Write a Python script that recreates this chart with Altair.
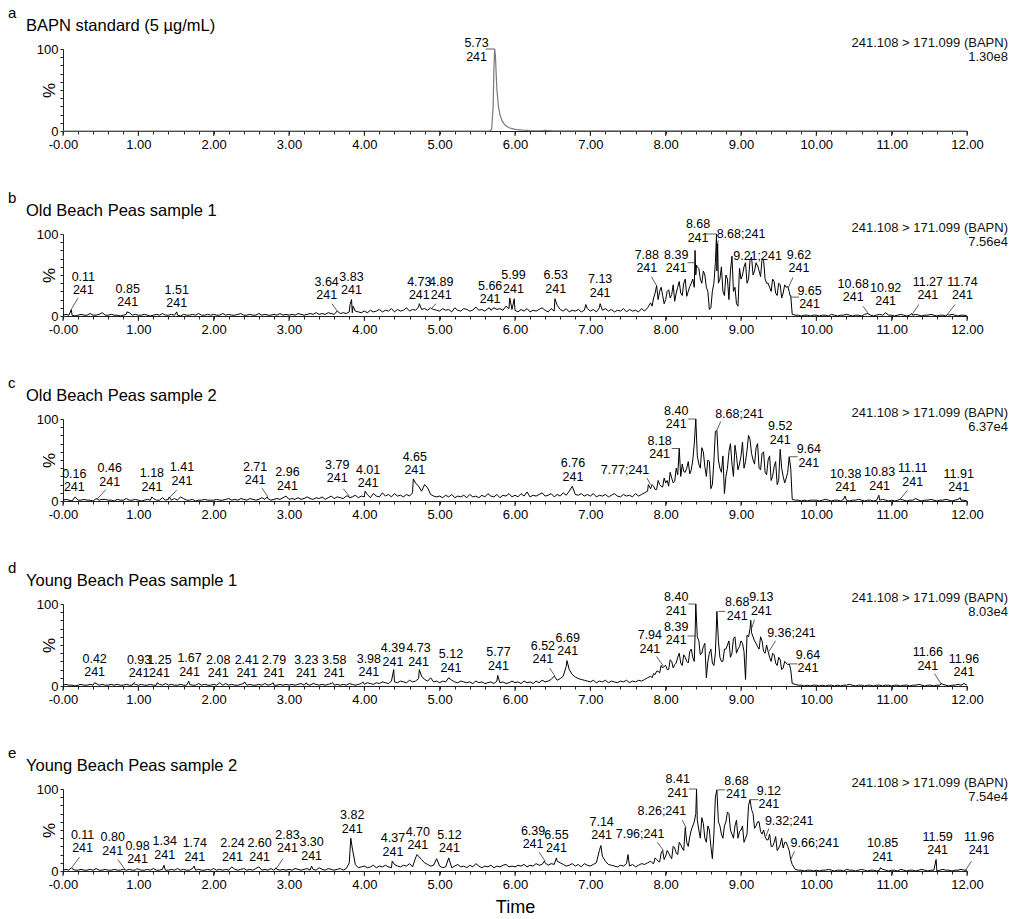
import altair as alt
import pandas as pd

FONT = "Liberation Sans"
STEP = 0.04          # spacing of the base trace samples (min)
MID_START = 7.82     # first time of the interleaved samples in the dense hump
W, H = 904, 82
LH = 13.5            # line height of the two-line peak labels

letters = ["a", "b", "c", "d", "e"]
titles = ["BAPN standard (5 µg/mL)", "Old Beach Peas sample 1", "Old Beach Peas sample 2",
          "Young Beach Peas sample 1", "Young Beach Peas sample 2"]
transition = "241.108 > 171.099 (BAPN)"
intensities = ["1.30e8", "7.56e4", "6.37e4", "8.03e4", "7.54e4"]

x_tick_values = [round(0.2 * i, 1) for i in range(61)]
x_major_ticks = list(range(13))
y_tick_values = list(range(0, 101, 10))

# ---- panel a: BAPN standard (clean peak) ----
a_t = [0.0, 5.66, 5.69, 5.71, 5.72, 5.73, 5.74, 5.75, 5.76, 5.78, 5.80, 5.83, 5.87, 5.92,
       6.00, 6.10, 6.20, 6.35, 6.40, 6.50, 12.0]
a_v = [0, 0, 2, 30, 75, 100, 92, 70, 50, 30, 20, 12, 7, 4, 2, 1, 0.5, 0.3, 0.8, 0.2, 0]
a_labels = [("5.73\n241", 5.73, 100, 5.61, 100, 5.49, 82)]

# ---- panel b ----
b_base = [1,2,1,1,0,1,2,1,1,3,1,1,2,4,1,1,2,1,1,0,1,2,4,1,2,
          1,1,2,1,0,1,2,1,3,1,1,2,1,1,0,2,1,1,2,1,3,1,1,2,1,
          2,1,1,3,1,2,1,1,2,3,1,1,2,1,1,3,1,2,1,1,2,1,3,1,2,
          1,2,1,3,2,1,2,3,2,4,2,3,2,4,3,2,5,3,4,3,5,4,6,5,4,
          6,4,7,5,6,8,5,7,6,9,5,8,6,7,10,6,8,7,11,8,9,7,10,8,7,
          6,9,7,8,5,10,7,6,9,8,6,7,11,7,8,6,9,7,10,8,9,7,12,9,8,
          7,5,8,6,9,5,7,6,8,10,7,5,9,6,13,8,6,9,5,7,6,8,5,7,9,
          6,8,5,10,7,9,6,8,5,7,6,9,5,8,6,7,5,9,6,10,16,22,18,30,25,
          20,32,26,18,35,28,40,24,36,45,50,58,40,50,30,10,40,55,45,30,50,20,72,35,12,
          45,60,40,68,50,65,55,70,45,40,30,42,25,38,28,35,30,2,1,1,0,1,1,0,1,
          1,0,1,1,0,2,1,0,1,1,2,1,0,1,1,0,2,1,1,0,1,2,1,0,1,
          1,0,1,2,1,0,1,1,2,1,0,1,1,2,1,0,1,1,0,1,2,1,0,1,1,0]
b_mid = [12,28,20,35,15, 30,22,38,28,42, 25,45,30,40,35, 60,45,55,35,8,
         30,65,40,60,25, 45,55,30,15,58, 50,65,45,72,55, 62,48,68,40,35,
         45,28,40,22,38, 30,25]
b_spikes = [(0.11,8),(0.85,5),(1.51,5),(3.64,6),(3.81,14),(3.83,20),(3.85,12),(4.73,15),
            (4.89,9),(5.66,10),(5.93,22),(5.99,21),(6.53,21),(6.94,14),(7.13,15),(7.88,37),
            (8.39,80),(8.41,62),(8.675,100),(8.69,88),(8.88,73),(9.21,62),(9.62,36),(9.65,25),
            (10.68,3),(10.92,4),(11.27,3),(11.74,2)]
b_labels = [("0.11\n241", 0.115, 9, 0.20, 22, 0.27, 23),
            ("0.85\n241", 0.85, 5, 0.85, 5, 0.86, 8),
            ("1.51\n241", 1.51, 5, 1.51, 5, 1.51, 7),
            ("3.64\n241", 3.64, 6, 3.57, 15, 3.50, 16.5),
            ("3.83\n241", 3.83, 20, 3.83, 20, 3.83, 23),
            ("4.73\n241", 4.73, 15, 4.73, 15, 4.73, 17),
            ("4.89\n241", 4.89, 9, 4.95, 15, 5.02, 17),
            ("5.66\n241", 5.66, 10, 5.66, 10, 5.67, 12),
            ("5.99\n241", 5.99, 21, 5.99, 21, 5.98, 25),
            ("6.53\n241", 6.53, 21, 6.53, 21, 6.54, 25),
            ("7.13\n241", 7.13, 15, 7.13, 15, 7.13, 20),
            ("7.88\n241", 7.88, 37, 7.81, 48, 7.75, 50),
            ("8.39\n241", 8.40, 65, 8.29, 65, 8.14, 50),
            ("8.68\n241", 8.675, 100, 8.53, 100, 8.43, 87),
            ("8.68;241", 8.69, 88, 8.70, 92, 9.00, 92),
            ("9.21;241", 9.21, 62, 9.21, 62, 9.22, 65),
            ("9.62\n241", 9.63, 35, 9.69, 47, 9.77, 50),
            ("9.65\n241", 9.66, 23, 9.77, 23, 9.91, 6),
            ("10.68\n241", 10.69, 3, 10.62, 12, 10.49, 14.5),
            ("10.92\n241", 10.92, 4, 10.92, 4, 10.92, 9.5),
            ("11.27\n241", 11.28, 3, 11.36, 14, 11.48, 16.5),
            ("11.74\n241", 11.74, 2, 11.84, 14, 11.94, 16.5)]

# ---- panel c ----
c_base = [1,2,1,0,4,1,1,2,1,1,0,3,1,2,2,1,1,0,2,1,1,3,1,1,2,
          1,0,1,2,1,3,1,1,4,1,2,1,3,1,5,3,1,1,2,0,1,1,2,1,1,
          1,2,1,1,2,3,1,2,1,3,2,1,3,2,1,2,4,2,3,1,2,3,2,4,3,
          2,3,2,4,2,3,5,3,2,4,3,5,2,4,6,3,5,4,3,6,4,5,7,4,6,
          5,8,4,9,6,5,10,6,8,5,9,6,7,5,8,6,10,22,18,12,20,16,8,6,5,
          6,4,7,5,8,4,6,5,7,4,8,5,6,4,7,5,9,6,5,8,4,7,6,9,5,
          7,5,9,6,11,5,7,6,8,10,6,7,9,5,8,6,10,7,12,6,8,7,9,6,8,
          6,9,5,7,6,8,5,7,9,6,5,8,6,7,5,9,6,8,10,12,15,18,14,20,17,
          22,18,28,24,32,30,36,40,33,50,60,45,65,42,50,15,48,70,40,55,30,60,45,68,38,
          55,40,62,75,50,65,40,58,35,50,25,42,20,45,30,28,32,2,1,1,0,1,0,1,1,
          1,0,1,2,1,0,1,1,0,2,1,0,1,1,2,1,0,1,1,0,1,1,2,1,0,
          1,0,1,2,1,0,1,1,3,1,0,1,1,2,1,0,1,1,2,1,0,1,2,1,1,0]
c_mid = [20,14,25,18,28, 25,35,22,40,30, 45,35,48,38,70, 55,40,60,30,48,
         20,85,50,35,9, 40,70,30,55,45, 72,48,80,58,45, 70,38,60,32,55,
         30,48,25,40,22, 35,40]
c_spikes = [(0.16,5),(0.46,2),(1.18,5),(1.41,5),(2.71,5),(2.96,6),(3.79,6),(4.01,12),
            (4.65,27),(6.76,18),(7.77,20),(8.18,64),(8.40,100),(8.68,86),(9.52,63),(9.64,54),
            (10.38,6),(10.83,7),(11.11,2),(11.91,4)]
c_labels = [("0.16\n241", 0.16, 5, 0.16, 5, 0.15, 8),
            ("0.46\n241", 0.45, 2, 0.57, 14, 0.62, 15),
            ("1.18\n241", 1.18, 5, 1.18, 5, 1.18, 9),
            ("1.41\n241", 1.42, 5, 1.51, 13, 1.58, 16),
            ("2.71\n241", 2.72, 5, 2.64, 16, 2.55, 17),
            ("2.96\n241", 2.96, 6, 2.96, 6, 2.98, 10),
            ("3.79\n241", 3.80, 6, 3.72, 15, 3.64, 19),
            ("4.01\n241", 4.01, 12, 4.01, 12, 4.05, 13),
            ("4.65\n241", 4.65, 27, 4.65, 27, 4.67, 29),
            ("6.76\n241", 6.76, 18, 6.76, 18, 6.77, 21),
            ("7.77;241", 7.80, 20, 7.75, 28, 7.46, 29),
            ("8.18\n241", 8.19, 64, 8.08, 64, 7.92, 48.6),
            ("8.40\n241", 8.40, 100, 8.30, 100, 8.14, 85),
            ("8.68;241", 8.68, 86, 8.73, 97, 8.98, 98),
            ("9.52\n241", 9.52, 63, 9.52, 63, 9.52, 66),
            ("9.64\n241", 9.65, 54, 9.75, 54, 9.90, 38),
            ("10.38\n241", 10.38, 6, 10.38, 6, 10.39, 8),
            ("10.83\n241", 10.83, 7, 10.83, 7, 10.84, 10),
            ("11.11\n241", 11.11, 2, 11.21, 13, 11.28, 15),
            ("11.91\n241", 11.91, 4, 11.91, 4, 11.89, 8)]

# ---- panel d ----
d_base = [1,2,1,1,0,1,2,1,1,2,1,3,1,2,1,1,2,1,2,1,1,2,1,1,2,
          1,2,1,1,2,1,1,2,1,3,1,2,1,1,2,1,1,2,1,1,3,1,2,1,1,
          2,1,2,1,3,1,2,1,1,2,3,1,2,1,1,2,1,3,1,2,1,1,2,1,2,
          1,2,1,2,3,1,2,1,3,2,1,2,1,2,3,1,2,1,2,1,3,2,1,2,3,
          2,4,3,2,4,3,5,4,3,6,5,4,6,5,4,7,5,6,9,12,8,6,10,5,6,
          4,6,5,3,7,5,4,6,5,4,5,3,6,4,5,3,4,5,3,6,4,5,3,4,6,
          4,5,3,6,4,5,3,6,4,7,5,6,8,10,7,9,12,24,20,14,11,9,8,7,6,
          5,7,4,6,5,7,4,6,5,4,6,5,7,4,6,5,7,6,8,10,12,15,18,16,22,
          25,20,30,26,35,28,38,30,42,35,50,55,40,52,30,45,25,50,35,30,45,55,40,60,45,
          55,42,62,70,60,52,45,55,40,42,30,38,25,32,22,28,24,3,2,1,1,0,1,0,1,
          1,0,1,0,1,1,0,1,0,1,1,2,1,0,1,1,0,1,1,0,1,1,0,1,1,
          0,1,1,0,1,1,0,1,1,2,1,0,1,1,0,1,1,2,1,0,1,1,2,1,0,1]
d_mid = [10,14,18,12,24, 20,32,22,28,40, 25,35,28,45,30, 60,38,48,10,40,
         28,40,55,30,45, 50,35,58,40,48, 52,8,60,65,55, 48,60,42,50,35,
         40,28,35,20,30, 26,20]
d_spikes = [(0.42,4),(0.93,3),(1.25,4),(1.67,6),(2.08,4),(2.41,5),(2.79,4),(3.23,4),(3.58,4),
            (3.98,5),(4.39,20),(4.73,20),(5.12,10),(5.77,13),(6.52,12),(6.69,31),(7.94,25),
            (8.39,61),(8.40,100),(8.68,91),(9.13,80),(9.36,42),(9.64,27),(11.66,3),(11.96,3)]
d_labels = [("0.42\n241", 0.42, 4, 0.42, 4, 0.42, 8),
            ("0.93\n241", 0.93, 3, 0.96, 5, 1.01, 7),
            ("1.25\n241", 1.25, 4, 1.25, 4, 1.28, 7),
            ("1.67\n241", 1.67, 6, 1.67, 6, 1.68, 9),
            ("2.08\n241", 2.08, 4, 2.08, 4, 2.06, 7),
            ("2.41\n241", 2.41, 5, 2.41, 5, 2.44, 7),
            ("2.79\n241", 2.79, 4, 2.79, 4, 2.80, 7),
            ("3.23\n241", 3.23, 4, 3.23, 4, 3.23, 7),
            ("3.58\n241", 3.58, 4, 3.58, 4, 3.60, 7),
            ("3.98\n241", 3.98, 5, 3.98, 5, 4.06, 8),
            ("4.39\n241", 4.39, 20, 4.39, 20, 4.38, 21),
            ("4.73\n241", 4.73, 20, 4.73, 20, 4.72, 21),
            ("5.12\n241", 5.12, 10, 5.12, 10, 5.15, 14),
            ("5.77\n241", 5.77, 13, 5.77, 13, 5.78, 16),
            ("6.52\n241", 6.53, 12, 6.46, 22, 6.37, 24),
            ("6.69\n241", 6.69, 31, 6.69, 31, 6.70, 34),
            ("7.94\n241", 7.97, 24, 7.88, 36, 7.79, 37),
            ("8.39\n241", 8.40, 61, 8.29, 61, 8.14, 47),
            ("8.40\n241", 8.40, 100, 8.30, 100, 8.14, 83),
            ("8.68\n241", 8.70, 91, 8.79, 91, 8.95, 77),
            ("9.13\n241", 9.14, 70, 9.18, 81, 9.27, 83),
            ("9.36;241", 9.37, 42, 9.46, 55, 9.67, 56),
            ("9.64\n241", 9.65, 27, 9.75, 27, 9.89, 13),
            ("11.66\n241", 11.66, 2, 11.57, 15, 11.48, 16),
            ("11.96\n241", 11.96, 3, 11.96, 3, 11.96, 8)]

# ---- panel e ----
e_base = [1,2,1,3,1,1,2,1,1,2,1,3,1,1,2,1,1,2,1,1,3,1,2,1,1,
          2,1,1,2,1,3,1,1,2,1,1,2,1,3,1,2,1,1,3,1,2,1,1,2,1,
          3,1,2,1,2,1,3,2,1,2,3,1,2,1,3,2,1,2,1,3,1,2,1,2,1,
          2,1,3,2,1,2,3,1,2,1,4,2,1,3,2,1,2,3,1,3,10,28,8,4,5,
          6,4,5,7,4,6,5,7,5,4,8,6,5,7,6,9,5,16,18,14,10,8,6,7,15,
          6,4,5,7,4,6,8,5,6,4,7,5,9,6,4,6,5,7,4,6,5,7,8,5,6,
          5,7,6,8,5,7,6,9,7,8,10,7,9,8,12,10,8,6,7,9,6,8,5,9,7,
          6,8,10,25,18,12,8,7,6,5,7,6,9,6,8,5,7,9,8,10,12,9,14,11,13,
          18,22,15,28,20,32,25,35,42,55,70,50,65,40,55,30,45,80,55,40,60,70,45,55,40,
          50,35,45,85,70,55,60,45,42,38,30,35,25,32,28,35,25,8,2,1,1,0,1,1,0,
          1,0,1,1,2,1,0,1,1,0,2,1,1,0,1,2,1,0,1,1,0,1,2,1,0,
          1,1,0,2,1,0,1,1,0,1,2,1,0,1,1,0,1,2,1,1,0,1,1,2,1,1]
e_mid = [10,16,12,22,14, 25,18,30,22,35, 28,45,30,50,60, 62,40,58,35,50,
         15,90,60,45,55, 72,50,40,62,48, 55,40,80,75,52, 60,48,50,38,45,
         30,42,28,40,35, 30,12]
e_spikes = [(0.11,4),(0.80,2),(0.98,3),(1.34,7),(1.74,6),(2.24,5),(2.60,5),(2.83,4),(3.30,6),
            (3.82,40),(4.37,12),(4.70,20),(5.12,16),(6.39,12),(6.55,16),(7.14,31),(7.50,20),
            (7.96,25),(8.26,53),(8.41,100),(8.68,99),(9.12,87),(9.32,42),(9.66,14),(10.85,4),
            (11.59,14),(11.96,1)]
e_labels = [("0.11\n241", 0.115, 4, 0.22, 17, 0.26, 19),
            ("0.80\n241", 0.82, 2, 0.73, 14, 0.66, 16),
            ("0.98\n241", 0.98, 3, 0.98, 3, 0.99, 6),
            ("1.34\n241", 1.34, 7, 1.34, 7, 1.35, 11),
            ("1.74\n241", 1.74, 6, 1.74, 6, 1.75, 9),
            ("2.24\n241", 2.24, 5, 2.24, 5, 2.25, 9),
            ("2.60\n241", 2.60, 5, 2.60, 5, 2.61, 9),
            ("2.83\n241", 2.84, 4, 2.92, 15, 2.98, 19),
            ("3.30\n241", 3.30, 6, 3.30, 6, 3.30, 10),
            ("3.82\n241", 3.82, 40, 3.82, 40, 3.84, 43),
            ("4.37\n241", 4.37, 12, 4.37, 12, 4.38, 15),
            ("4.70\n241", 4.70, 20, 4.70, 20, 4.71, 23),
            ("5.12\n241", 5.12, 16, 5.12, 16, 5.13, 19),
            ("6.39\n241", 6.40, 12, 6.32, 23, 6.24, 24),
            ("6.55\n241", 6.55, 16, 6.55, 16, 6.55, 19),
            ("7.14\n241", 7.14, 31, 7.14, 31, 7.15, 35),
            ("7.96;241", 7.97, 25, 7.89, 35, 7.66, 36),
            ("8.26;241", 8.27, 53, 8.22, 62, 7.95, 65),
            ("8.41\n241", 8.41, 100, 8.31, 100, 8.16, 87),
            ("8.68\n241", 8.69, 99, 8.79, 99, 8.94, 85),
            ("9.12\n241", 9.12, 87, 9.23, 87, 9.37, 73),
            ("9.32;241", 9.33, 42, 9.37, 52, 9.64, 53),
            ("9.66;241", 9.66, 14, 9.71, 24, 9.98, 26),
            ("10.85\n241", 10.85, 4, 10.85, 4, 10.88, 9),
            ("11.59\n241", 11.59, 14, 11.59, 14, 11.61, 17),
            ("11.96\n241", 11.98, 1, 12.06, 12, 12.16, 17)]


def build_trace(base, mid, spikes):
    pts = {}
    for i, v in enumerate(base):
        pts[round(i * STEP, 3)] = v
    for k, v in enumerate(mid):
        pts[round(MID_START + k * STEP, 3)] = v
    for t, v in spikes:
        for key in [kk for kk in pts if abs(kk - t) < 0.004]:
            del pts[key]
        pts[t] = v
    return pd.DataFrame(sorted(pts.items()), columns=["t", "v"])


traces = [
    pd.DataFrame({"t": a_t, "v": a_v}),
    build_trace(b_base, b_mid, b_spikes),
    build_trace(c_base, c_mid, c_spikes),
    build_trace(d_base, d_mid, d_spikes),
    build_trace(e_base, e_mid, e_spikes),
]
label_sets = [a_labels, b_labels, c_labels, d_labels, e_labels]

XS = alt.Scale(domain=[0, 12], nice=False, zero=False)
YS = alt.Scale(domain=[0, 100], nice=False)
X_LABEL_EXPR = ("abs(datum.value - round(datum.value)) < 0.01 ? "
                "(datum.value < 0.01 ? '-0.00' : format(datum.value, '.2f')) : ''")


def panel(i):
    last = i == len(letters) - 1
    trace = traces[i]
    lab = pd.DataFrame(label_sets[i], columns=["text", "st", "sv", "kt", "kv", "lt", "lv"])
    lead = lab[(lab.st != lab.kt) | (lab.sv != lab.kv)]
    two = lab[lab.text.str.contains("\n")]
    one = lab[~lab.text.str.contains("\n")]
    head = pd.DataFrame({"letter": [letters[i]], "title": [titles[i]],
                         "mrm": [transition], "inten": [intensities[i]]})

    xaxis = alt.Axis(values=x_tick_values, labelExpr=X_LABEL_EXPR, tickSize=3,
                     labelPadding=4, grid=False, labelFontSize=13, labelOverlap=False,
                     labelFlush=False, titleFontSize=18, titleFontWeight="normal",
                     titlePadding=7)
    yaxis = alt.Axis(values=y_tick_values,
                     labelExpr="datum.value == 0 || datum.value == 100 ? datum.label : ''",
                     tickSize=3, labelPadding=2, grid=False, labelFontSize=13,
                     labelOverlap=False, labelFlush=False, title="%", titleAngle=270,
                     titleX=-14, titleY=41, titleAlign="center", titleBaseline="middle",
                     titleFontSize=17, titleFontWeight="normal")
    xtitle = "Time" if last else None

    def X(field):
        return alt.X(field, scale=XS, axis=xaxis, title=xtitle)

    def Y(field):
        return alt.Y(field, scale=YS, axis=yaxis, title="%")

    color = "#7a7a7a" if i == 0 else "#000000"
    width = 1.2 if i == 0 else 1.0
    line = alt.Chart(trace).mark_line(color=color, strokeWidth=width).encode(
        x=X("t:Q"), y=Y("v:Q"))
    major = alt.Chart(pd.DataFrame({"t": x_major_ticks})).mark_rule(
        color="#222", strokeWidth=1).encode(
        x=X("t:Q"), y=alt.value(H), y2=alt.value(H + 5))
    leaders = alt.Chart(lead).mark_rule(color="#333", strokeWidth=0.8).encode(
        x=X("st:Q"), y=Y("sv:Q"), x2="kt:Q", y2="kv:Q")
    labels2 = alt.Chart(two).mark_text(
        align="center", baseline="bottom", lineBreak="\n", fontSize=12.5, lineHeight=LH,
        dy=-LH, font=FONT, color="#000").encode(
        x=X("lt:Q"), y=Y("lv:Q"), text="text:N")
    labels1 = alt.Chart(one).mark_text(
        align="center", baseline="bottom", fontSize=12.5, font=FONT, color="#000").encode(
        x=X("lt:Q"), y=Y("lv:Q"), text="text:N")
    letter = alt.Chart(head).mark_text(align="left", baseline="middle", fontSize=15,
                                       font=FONT, color="#000").encode(
        x=alt.value(-55), y=alt.value(-36), text="letter:N")
    title = alt.Chart(head).mark_text(align="left", baseline="middle", fontSize=16.5,
                                      font=FONT, color="#000").encode(
        x=alt.value(-37), y=alt.value(-23), text="title:N")
    mrm = alt.Chart(head).mark_text(align="right", baseline="middle", fontSize=13,
                                    font=FONT, color="#111").encode(
        x=alt.value(W + 41), y=alt.value(-6), text="mrm:N")
    inten = alt.Chart(head).mark_text(align="right", baseline="middle", fontSize=13,
                                      font=FONT, color="#111").encode(
        x=alt.value(W + 41), y=alt.value(8), text="inten:N")
    layers = [line, major, leaders, labels2]
    if len(one):
        layers.append(labels1)
    layers += [letter, title, mrm, inten]
    return alt.layer(*layers).properties(width=W, height=H)


chart = alt.vconcat(*[panel(i) for i in range(5)], spacing=40).properties(
    padding={"left": 0, "top": -2, "right": 0, "bottom": 0}
).configure_view(stroke=None).configure_axis(
    labelFont=FONT, titleFont=FONT, domainColor="#222", tickColor="#222",
    labelColor="#000", titleColor="#000", domainWidth=1, tickWidth=1)

chart.save("out.html", embed_options={"renderer": "svg", "actions": False})
